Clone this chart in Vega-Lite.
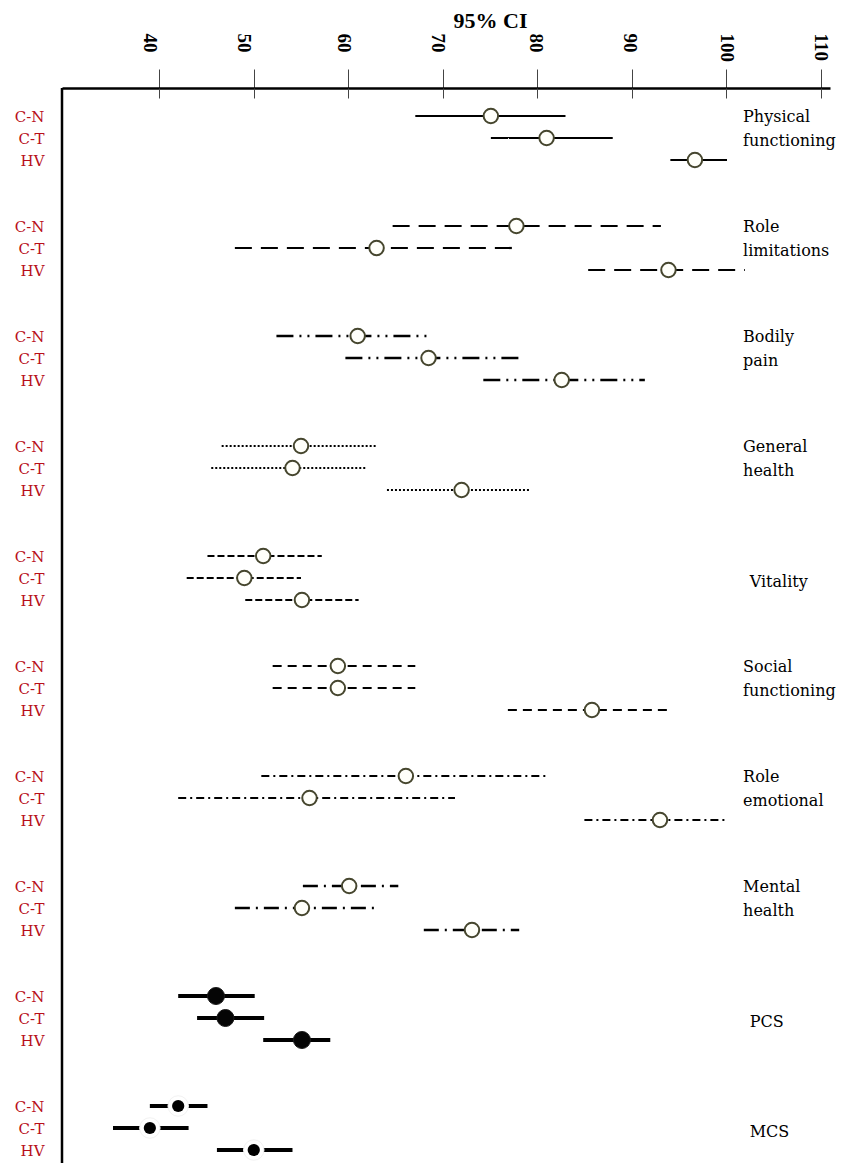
{
  "$schema": "https://vega.github.io/schema/vega-lite/v6.json",
  "width": 768,
  "height": 1075,
  "autosize": "none",
  "padding": {"left": 62, "top": 88, "right": 16, "bottom": 0},
  "background": "white",
  "config": {"view": {"stroke": null}},
  "resolve": {"axis": {"x": "independent"}},
  "datasets": {
    "ci": [
      {"group": "Physical functioning", "row": "C-N", "key": "Physical functioning|C-N", "lo": 67.1, "mean": 75.1, "hi": 83.0},
      {"group": "Physical functioning", "row": "C-T", "key": "Physical functioning|C-T", "lo": 75.1, "mean": 81.0, "hi": 88.0},
      {"group": "Physical functioning", "row": "HV", "key": "Physical functioning|HV", "lo": 94.1, "mean": 96.7, "hi": 100.1},
      {"group": "Role limitations", "row": "C-N", "key": "Role limitations|C-N", "lo": 64.7, "mean": 77.8, "hi": 93.1},
      {"group": "Role limitations", "row": "C-T", "key": "Role limitations|C-T", "lo": 48.0, "mean": 63.0, "hi": 78.0},
      {"group": "Role limitations", "row": "HV", "key": "Role limitations|HV", "lo": 85.4, "mean": 93.9, "hi": 102.0},
      {"group": "Bodily pain", "row": "C-N", "key": "Bodily pain|C-N", "lo": 52.4, "mean": 61.0, "hi": 68.5},
      {"group": "Bodily pain", "row": "C-T", "key": "Bodily pain|C-T", "lo": 59.7, "mean": 68.5, "hi": 78.1},
      {"group": "Bodily pain", "row": "HV", "key": "Bodily pain|HV", "lo": 74.3, "mean": 82.6, "hi": 91.4},
      {"group": "General health", "row": "C-N", "key": "General health|C-N", "lo": 46.6, "mean": 55.0, "hi": 62.9},
      {"group": "General health", "row": "C-T", "key": "General health|C-T", "lo": 45.5, "mean": 54.1, "hi": 62.0},
      {"group": "General health", "row": "HV", "key": "General health|HV", "lo": 64.1, "mean": 72.0, "hi": 79.2},
      {"group": "Vitality", "row": "C-N", "key": "Vitality|C-N", "lo": 45.1, "mean": 51.0, "hi": 57.2},
      {"group": "Vitality", "row": "C-T", "key": "Vitality|C-T", "lo": 42.9, "mean": 49.0, "hi": 55.0},
      {"group": "Vitality", "row": "HV", "key": "Vitality|HV", "lo": 49.1, "mean": 55.1, "hi": 61.1},
      {"group": "Social functioning", "row": "C-N", "key": "Social functioning|C-N", "lo": 52.0, "mean": 58.9, "hi": 67.1},
      {"group": "Social functioning", "row": "C-T", "key": "Social functioning|C-T", "lo": 52.0, "mean": 58.9, "hi": 67.1},
      {"group": "Social functioning", "row": "HV", "key": "Social functioning|HV", "lo": 76.9, "mean": 85.8, "hi": 94.0},
      {"group": "Role emotional", "row": "C-N", "key": "Role emotional|C-N", "lo": 50.8, "mean": 66.1, "hi": 81.2},
      {"group": "Role emotional", "row": "C-T", "key": "Role emotional|C-T", "lo": 42.0, "mean": 55.9, "hi": 71.3},
      {"group": "Role emotional", "row": "HV", "key": "Role emotional|HV", "lo": 85.0, "mean": 93.0, "hi": 100.2},
      {"group": "Mental health", "row": "C-N", "key": "Mental health|C-N", "lo": 55.2, "mean": 60.1, "hi": 65.3},
      {"group": "Mental health", "row": "C-T", "key": "Mental health|C-T", "lo": 48.0, "mean": 55.1, "hi": 63.1},
      {"group": "Mental health", "row": "HV", "key": "Mental health|HV", "lo": 68.0, "mean": 73.1, "hi": 78.1},
      {"group": "PCS", "row": "C-N", "key": "PCS|C-N", "lo": 42.0, "mean": 46.0, "hi": 50.1},
      {"group": "PCS", "row": "C-T", "key": "PCS|C-T", "lo": 44.0, "mean": 47.0, "hi": 51.1},
      {"group": "PCS", "row": "HV", "key": "PCS|HV", "lo": 51.0, "mean": 55.1, "hi": 58.1},
      {"group": "MCS", "row": "C-N", "key": "MCS|C-N", "lo": 39.0, "mean": 42.0, "hi": 45.1},
      {"group": "MCS", "row": "C-T", "key": "MCS|C-T", "lo": 35.1, "mean": 39.0, "hi": 43.1},
      {"group": "MCS", "row": "HV", "key": "MCS|HV", "lo": 46.1, "mean": 50.0, "hi": 54.1}
    ],
    "names": [
      {"label": "Physical\nfunctioning", "key": "Physical functioning|C-T"},
      {"label": "Role\nlimitations", "key": "Role limitations|C-T"},
      {"label": "Bodily\npain", "key": "Bodily pain|C-T"},
      {"label": "General\nhealth", "key": "General health|C-T"},
      {"label": "Vitality", "key": "Vitality|C-T"},
      {"label": "Social\nfunctioning", "key": "Social functioning|C-T"},
      {"label": "Role\nemotional", "key": "Role emotional|C-T"},
      {"label": "Mental\nhealth", "key": "Mental health|C-T"},
      {"label": "PCS", "key": "PCS|C-T"},
      {"label": "MCS", "key": "MCS|C-T"}
    ]
  },
  "layer": [
    {
      "data": {"name": "ci"},
      "mark": {"type": "rule", "color": "black", "strokeCap": "butt"},
      "encoding": {
        "x": {
          "field": "lo", "type": "quantitative",
          "scale": {"domain": [29.7, 111], "nice": false, "zero": false},
          "axis": {
            "orient": "top",
            "values": [40, 50, 60, 70, 80, 90, 100, 110],
            "grid": false,
            "domainColor": "black", "domainWidth": 2.5,
            "tickColor": "#444444", "tickWidth": 1, "tickSize": 19,
            "labelFont": "Liberation Serif", "labelFontWeight": "bold", "labelFontSize": 19, "labelColor": "black",
            "labelAngle": 90, "labelAlign": "left", "labelBaseline": "middle", "labelPadding": 36,
            "labelFlush": false, "labelOverlap": false, "labelBound": false,
            "labelOffset": {"condition": [{"test": "datum.value <= 50", "value": -10}, {"test": "datum.value <= 70", "value": -5}, {"test": "datum.value <= 90", "value": -2}], "value": 0},
            "title": "95% CI",
            "titleFont": "Liberation Serif", "titleFontWeight": "bold", "titleFontSize": 22, "titleColor": "black",
            "titleX": 428, "titleY": -61, "titleAlign": "center", "titleBaseline": "alphabetic", "titleAngle": 0
          }
        },
        "x2": {"field": "hi"},
        "y": {
          "field": "key", "type": "nominal",
          "scale": {
            "type": "point",
            "padding": 0,
            "domain": [
              "Physical functioning|C-N", "Physical functioning|C-T", "Physical functioning|HV", "g1a", "g1b",
              "Role limitations|C-N", "Role limitations|C-T", "Role limitations|HV", "g2a", "g2b",
              "Bodily pain|C-N", "Bodily pain|C-T", "Bodily pain|HV", "g3a", "g3b",
              "General health|C-N", "General health|C-T", "General health|HV", "g4a", "g4b",
              "Vitality|C-N", "Vitality|C-T", "Vitality|HV", "g5a", "g5b",
              "Social functioning|C-N", "Social functioning|C-T", "Social functioning|HV", "g6a", "g6b",
              "Role emotional|C-N", "Role emotional|C-T", "Role emotional|HV", "g7a", "g7b",
              "Mental health|C-N", "Mental health|C-T", "Mental health|HV", "g8a", "g8b",
              "PCS|C-N", "PCS|C-T", "PCS|HV", "g9a", "g9b",
              "MCS|C-N", "MCS|C-T", "MCS|HV"
            ],
            "range": [28, 1062]
          },
          "axis": {
            "orient": "left", "title": null, "domain": false, "ticks": false, "grid": false,
            "labelExpr": "indexof(datum.value, '|') >= 0 ? split(datum.value, '|')[1] : ''",
            "labelFont": "DejaVu Serif", "labelFontSize": 15, "labelColor": "#b80f1a",
            "labelPadding": 18, "labelOverlap": false, "labelAlign": "right", "labelBaseline": "middle"
          }
        },
        "strokeDash": {
          "field": "group", "type": "nominal", "legend": null,
          "scale": {
            "domain": ["Physical functioning", "Role limitations", "Bodily pain", "General health", "Vitality", "Social functioning", "Role emotional", "Mental health", "PCS", "MCS"],
            "range": [[1, 0], [17, 9], [17, 6, 2, 6, 2, 6], [2, 2], [7, 3], [9, 6], [8, 4, 2, 4], [15, 6, 2, 6], [1, 0], [1, 0]]
          }
        },
        "strokeWidth": {
          "field": "group", "type": "nominal", "legend": null,
          "scale": {
            "type": "ordinal",
            "domain": ["Physical functioning", "Role limitations", "Bodily pain", "General health", "Vitality", "Social functioning", "Role emotional", "Mental health", "PCS", "MCS"],
            "range": [2, 2.2, 2.5, 2, 2, 2, 2, 2.5, 4, 4]
          }
        }
      }
    },
    {
      "data": {"values": [{}]},
      "mark": {"type": "rule", "color": "black", "strokeWidth": 2.5},
      "encoding": {
        "x": {
          "datum": 29.7,
          "axis": {
            "orient": "top", "offset": -10, "values": [40, 50, 60, 70, 80, 90, 100, 110],
            "domain": false, "labels": false, "grid": false, "title": null,
            "tickColor": "#444444", "tickWidth": 1, "tickSize": 10
          }
        }
      }
    },
    {
      "data": {"name": "ci"},
      "transform": [{"filter": "datum.group != 'PCS' && datum.group != 'MCS'"}],
      "mark": {"type": "point", "shape": "circle", "filled": false, "fill": "#fffffa", "fillOpacity": 1, "stroke": "#46462e", "strokeWidth": 2, "size": 210, "opacity": 1},
      "encoding": {
        "x": {"field": "mean", "type": "quantitative", "axis": null},
        "y": {"field": "key", "type": "nominal"}
      }
    },
    {
      "data": {"name": "ci"},
      "transform": [{"filter": "datum.group == 'PCS'"}],
      "mark": {"type": "point", "shape": "circle", "filled": true, "fill": "#050505", "stroke": "#1a1a1a", "strokeWidth": 1, "size": 290, "opacity": 1},
      "encoding": {
        "x": {"field": "mean", "type": "quantitative", "axis": null},
        "y": {"field": "key", "type": "nominal"}
      }
    },
    {
      "data": {"name": "ci"},
      "transform": [{"filter": "datum.group == 'MCS'"}],
      "mark": {"type": "point", "shape": "circle", "filled": true, "fill": "white", "stroke": "#f2f2f2", "strokeWidth": 1, "size": 420, "opacity": 1},
      "encoding": {
        "x": {"field": "mean", "type": "quantitative", "axis": null},
        "y": {"field": "key", "type": "nominal"}
      }
    },
    {
      "data": {"name": "ci"},
      "transform": [{"filter": "datum.group == 'MCS'"}],
      "mark": {"type": "point", "shape": "circle", "filled": true, "fill": "black", "size": 150, "opacity": 1},
      "encoding": {
        "x": {"field": "mean", "type": "quantitative", "axis": null},
        "y": {"field": "key", "type": "nominal"}
      }
    },
    {
      "data": {"name": "names"},
      "transform": [{"filter": "indexof(datum.label, '\\n') >= 0"}],
      "mark": {"type": "text", "align": "left", "baseline": "middle", "font": "DejaVu Serif", "fontSize": 16, "lineBreak": "\n", "lineHeight": 24, "dy": -21, "color": "black"},
      "encoding": {
        "x": {"datum": 101.8, "axis": null},
        "y": {"field": "key", "type": "nominal"},
        "text": {"field": "label"}
      }
    },
    {
      "data": {"name": "names"},
      "transform": [{"filter": "indexof(datum.label, '\\n') < 0"}],
      "mark": {"type": "text", "align": "left", "baseline": "middle", "font": "DejaVu Serif", "fontSize": 16, "dy": 4, "color": "black"},
      "encoding": {
        "x": {"datum": 102.5, "axis": null},
        "y": {"field": "key", "type": "nominal"},
        "text": {"field": "label"}
      }
    }
  ]
}
